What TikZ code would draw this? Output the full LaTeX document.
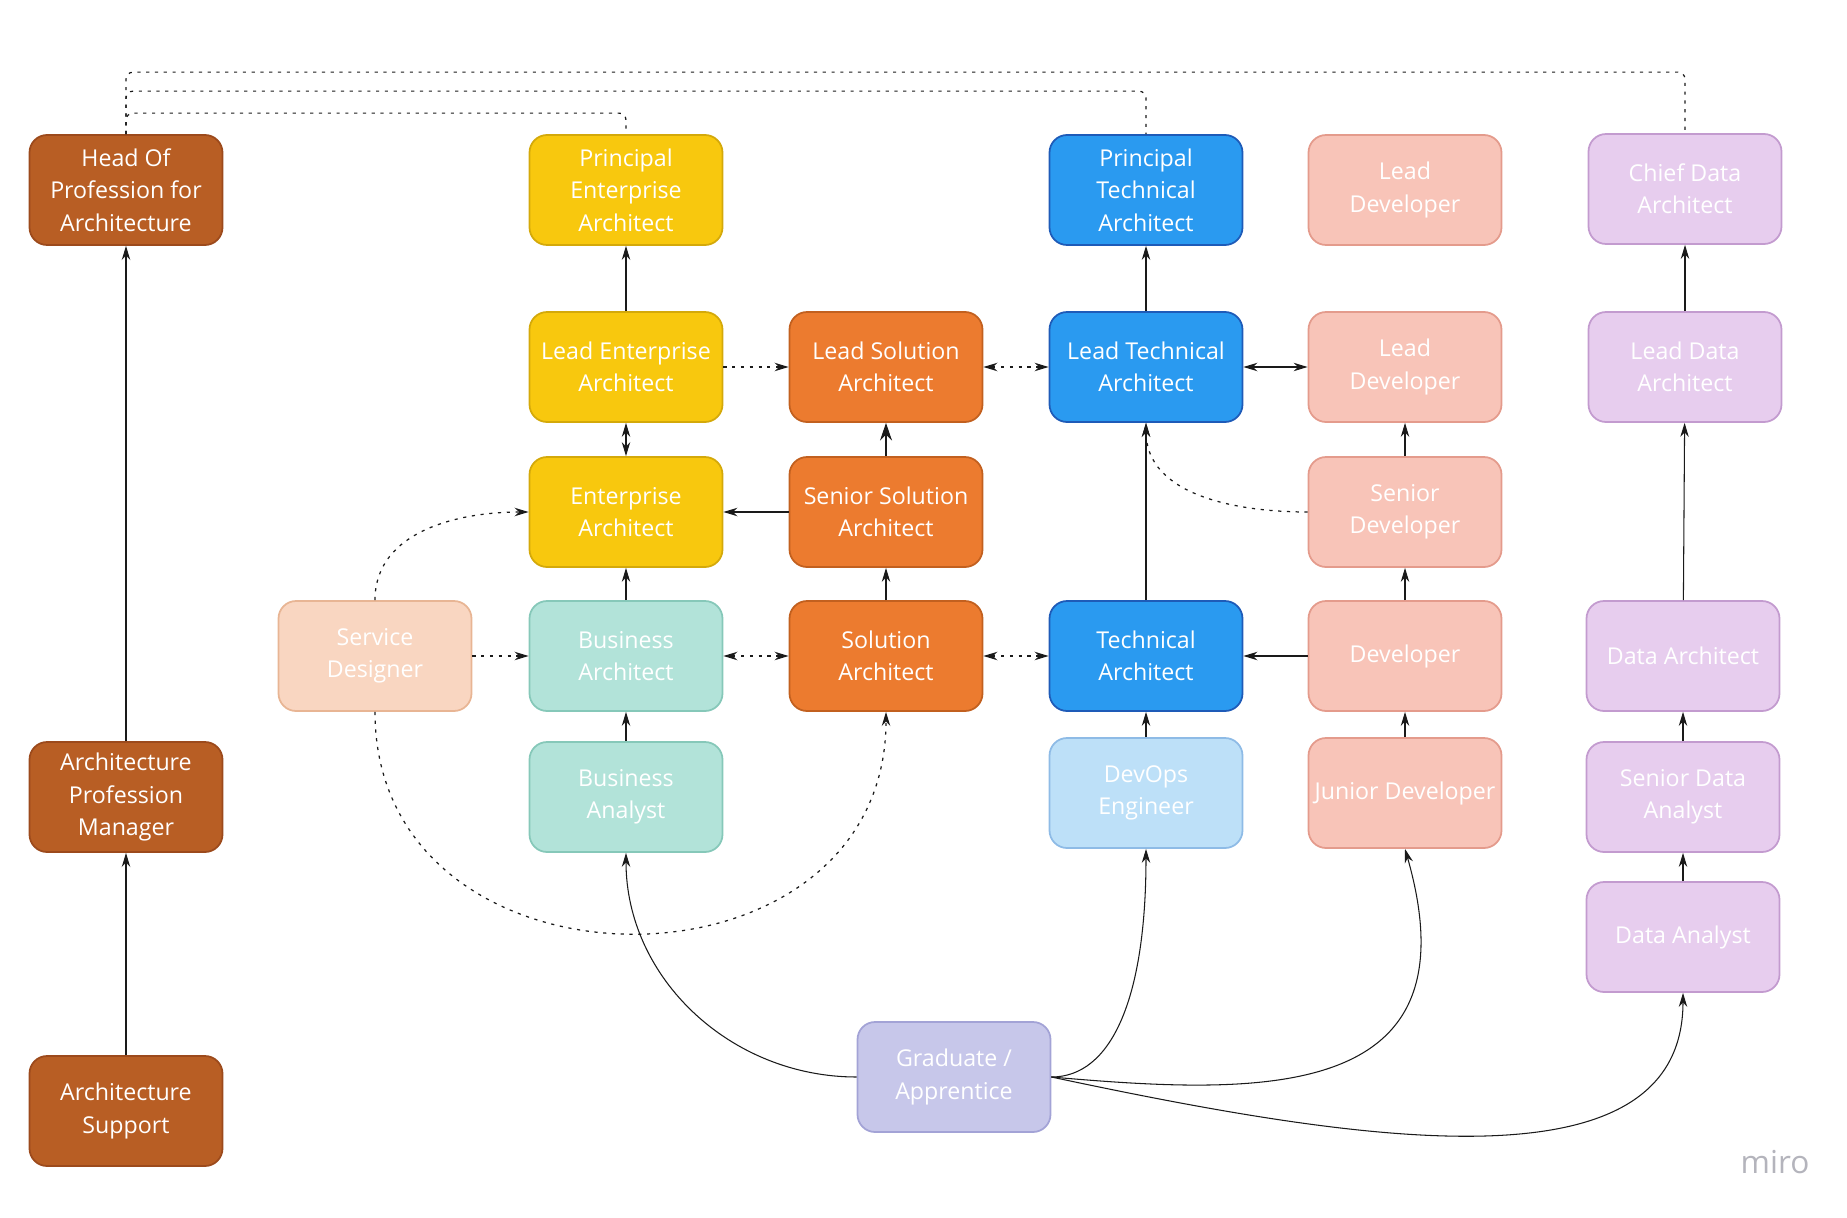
\documentclass[tikz,border=0pt]{standalone}
\usepackage{fontspec}
\setmainfont{Open Sans}
\usetikzlibrary{arrows.meta}

\definecolor{headfill}{HTML}{B85E24}
\definecolor{headline}{HTML}{9C4A1C}
\definecolor{entfill}{HTML}{F8C80E}
\definecolor{entline}{HTML}{D4A90A}
\definecolor{solfill}{HTML}{EC7B2F}
\definecolor{solline}{HTML}{C2601F}
\definecolor{techfill}{HTML}{2A9AF0}
\definecolor{techline}{HTML}{1E5BB8}
\definecolor{devfill}{HTML}{F8C4B8}
\definecolor{devline}{HTML}{E49B8C}
\definecolor{datafill}{HTML}{E7CDEE}
\definecolor{dataline}{HTML}{C39BCF}
\definecolor{busfill}{HTML}{B2E3D9}
\definecolor{busline}{HTML}{86C8B9}
\definecolor{svcfill}{HTML}{F9D6C1}
\definecolor{svcline}{HTML}{E8B594}
\definecolor{opsfill}{HTML}{BDE0F8}
\definecolor{opsline}{HTML}{8EBBE6}
\definecolor{gradfill}{HTML}{C7C7EA}
\definecolor{gradline}{HTML}{A3A3D6}
\definecolor{mirogrey}{HTML}{B4B4BC}
\definecolor{wire}{HTML}{1A1A1A}

\tikzset{
  role/.style={rectangle, rounded corners=5pt, line width=0.5pt,
    minimum width=1.93cm, minimum height=1.10cm, inner sep=1pt,
    align=center, text=white, font=\fontsize{6.6}{9.2}\selectfont},
  headbox/.style={role, fill=headfill, draw=headline},
  entbox/.style={role, fill=entfill, draw=entline},
  solbox/.style={role, fill=solfill, draw=solline},
  techbox/.style={role, fill=techfill, draw=techline},
  devbox/.style={role, fill=devfill, draw=devline},
  databox/.style={role, fill=datafill, draw=dataline},
  busbox/.style={role, fill=busfill, draw=busline},
  svcbox/.style={role, fill=svcfill, draw=svcline},
  opsbox/.style={role, fill=opsfill, draw=opsline},
  gradbox/.style={role, fill=gradfill, draw=gradline},
  link/.style={draw=wire, line width=0.3pt, -{Stealth[length=4pt,width=2.4pt]}},
  twoway/.style={draw=wire, line width=0.3pt,
    {Stealth[length=4pt,width=2.4pt]}-{Stealth[length=4pt,width=2.4pt]}},
  dots/.style={draw=wire, line width=0.35pt, dash pattern=on 0.9pt off 1.6pt},
}

\begin{document}
\begin{tikzpicture}
  \useasboundingbox (0,0) rectangle (18.47,12.17);

  % architecture profession
  \node[headbox] (head) at (1.26,10.27) {Head Of\\Profession for\\Architecture};
  \node[headbox] (apm) at (1.26,4.20) {Architecture\\Profession\\Manager};
  \node[headbox] (support) at (1.26,1.06) {Architecture\\Support};

  % enterprise and business
  \node[entbox] (pea) at (6.26,10.27) {Principal\\Enterprise\\Architect};
  \node[entbox] (lea) at (6.26,8.50) {Lead Enterprise\\Architect};
  \node[entbox] (ea) at (6.26,7.05) {Enterprise\\Architect};
  \node[busbox] (ba) at (6.26,5.61) {Business\\Architect};
  \node[busbox] (ban) at (6.26,4.20) {Business\\Analyst};
  \node[svcbox] (sd) at (3.75,5.61) {Service\\Designer};

  % solution
  \node[solbox] (lsa) at (8.86,8.50) {Lead Solution\\Architect};
  \node[solbox] (ssa) at (8.86,7.05) {Senior Solution\\Architect};
  \node[solbox] (sa) at (8.86,5.61) {Solution\\Architect};

  % technical
  \node[techbox] (pta) at (11.46,10.27) {Principal\\Technical\\Architect};
  \node[techbox] (lta) at (11.46,8.50) {Lead Technical\\Architect};
  \node[techbox] (ta) at (11.46,5.61) {Technical\\Architect};
  \node[opsbox] (devops) at (11.46,4.24) {DevOps\\Engineer};

  % developers
  \node[devbox] (ldtop) at (14.05,10.27) {Lead\\Developer};
  \node[devbox] (ld) at (14.05,8.50) {Lead\\Developer};
  \node[devbox] (sdev) at (14.05,7.05) {Senior\\Developer};
  \node[devbox] (dev) at (14.05,5.61) {Developer};
  \node[devbox] (jdev) at (14.05,4.24) {Junior Developer};

  % data
  \node[databox] (cda) at (16.85,10.28) {Chief Data\\Architect};
  \node[databox] (lda) at (16.85,8.50) {Lead Data\\Architect};
  \node[databox] (dar) at (16.83,5.61) {Data Architect};
  \node[databox] (sda) at (16.83,4.20) {Senior Data\\Analyst};
  \node[databox] (dan) at (16.83,2.80) {Data Analyst};

  \node[gradbox] (grad) at (9.54,1.40) {Graduate /\\Apprentice};

  \node[text=mirogrey, font=\fontsize{9}{9}\selectfont] (miro) at (17.75,0.55) {miro};

  % reporting lines to head of profession
  \draw[dots, rounded corners=2pt] (head.north) -- ++(0,0.21) -| (pea.north);
  \draw[dots, rounded corners=2pt] (head.north) -- ++(0,0.43) -| (pta.north);
  \draw[dots, rounded corners=2pt] (head.north) -- ++(0,0.62) -| (cda.north);

  \draw[link] (support) -- (apm);
  \draw[link] (apm) -- (head);

  \draw[link] (lea) -- (pea);
  \draw[twoway] (ea) -- (lea);
  \draw[link] (ba) -- (ea);
  \draw[link] (ban) -- (ba);
  \draw[link, dots] (sd) -- (ba);
  \draw[link, dots] (sd.north) to[out=90, in=180] (ea.west);
  \draw[link, dots] (sd.south) to[out=-90, in=-90, distance=2.95cm] (sa.south);

  \draw[link, dots] (lea) -- (lsa);
  \draw[draw=wire, line width=0.3pt, -{Stealth[length=5pt,width=3.4pt]}] (ssa) -- (lsa);
  \draw[link] (ssa) -- (ea);
  \draw[link] (sa) -- (ssa);
  \draw[twoway, dots] (ba) -- (sa);
  \draw[twoway, dots] (sa) -- (ta);
  \draw[twoway, dots] (lsa) -- (lta);

  \draw[link] (lta) -- (pta);
  \draw[link] (ta) -- (lta);
  \draw[link] (devops) -- (ta);
  \draw[twoway] (lta) -- (ld);
  \draw[link] (dev) -- (ta);
  \draw[link, dots] (sdev.west) to[out=180, in=-90] (lta.south);

  \draw[link] (sdev) -- (ld);
  \draw[link] (dev) -- (sdev);
  \draw[link] (jdev) -- (dev);

  \draw[link] (lda) -- (cda);
  \draw[link] (dar) -- (lda);
  \draw[link] (sda) -- (dar);
  \draw[link] (dan) -- (sda);

  % graduate entry routes
  \draw[link] (grad.west) to[out=180, in=-90] (ban.south);
  \draw[link] (grad.east) to[out=0, in=-90, out distance=0.6cm, in distance=1.5cm] (devops.south);
  \draw[link] (grad.east) to[out=-5, in=-74, out distance=2.1cm, in distance=2.65cm] (jdev.south);
  \draw[link] (grad.east) to[out=-12, in=-90, out distance=3.2cm, in distance=2cm] (dan.south);
\end{tikzpicture}
\end{document}
